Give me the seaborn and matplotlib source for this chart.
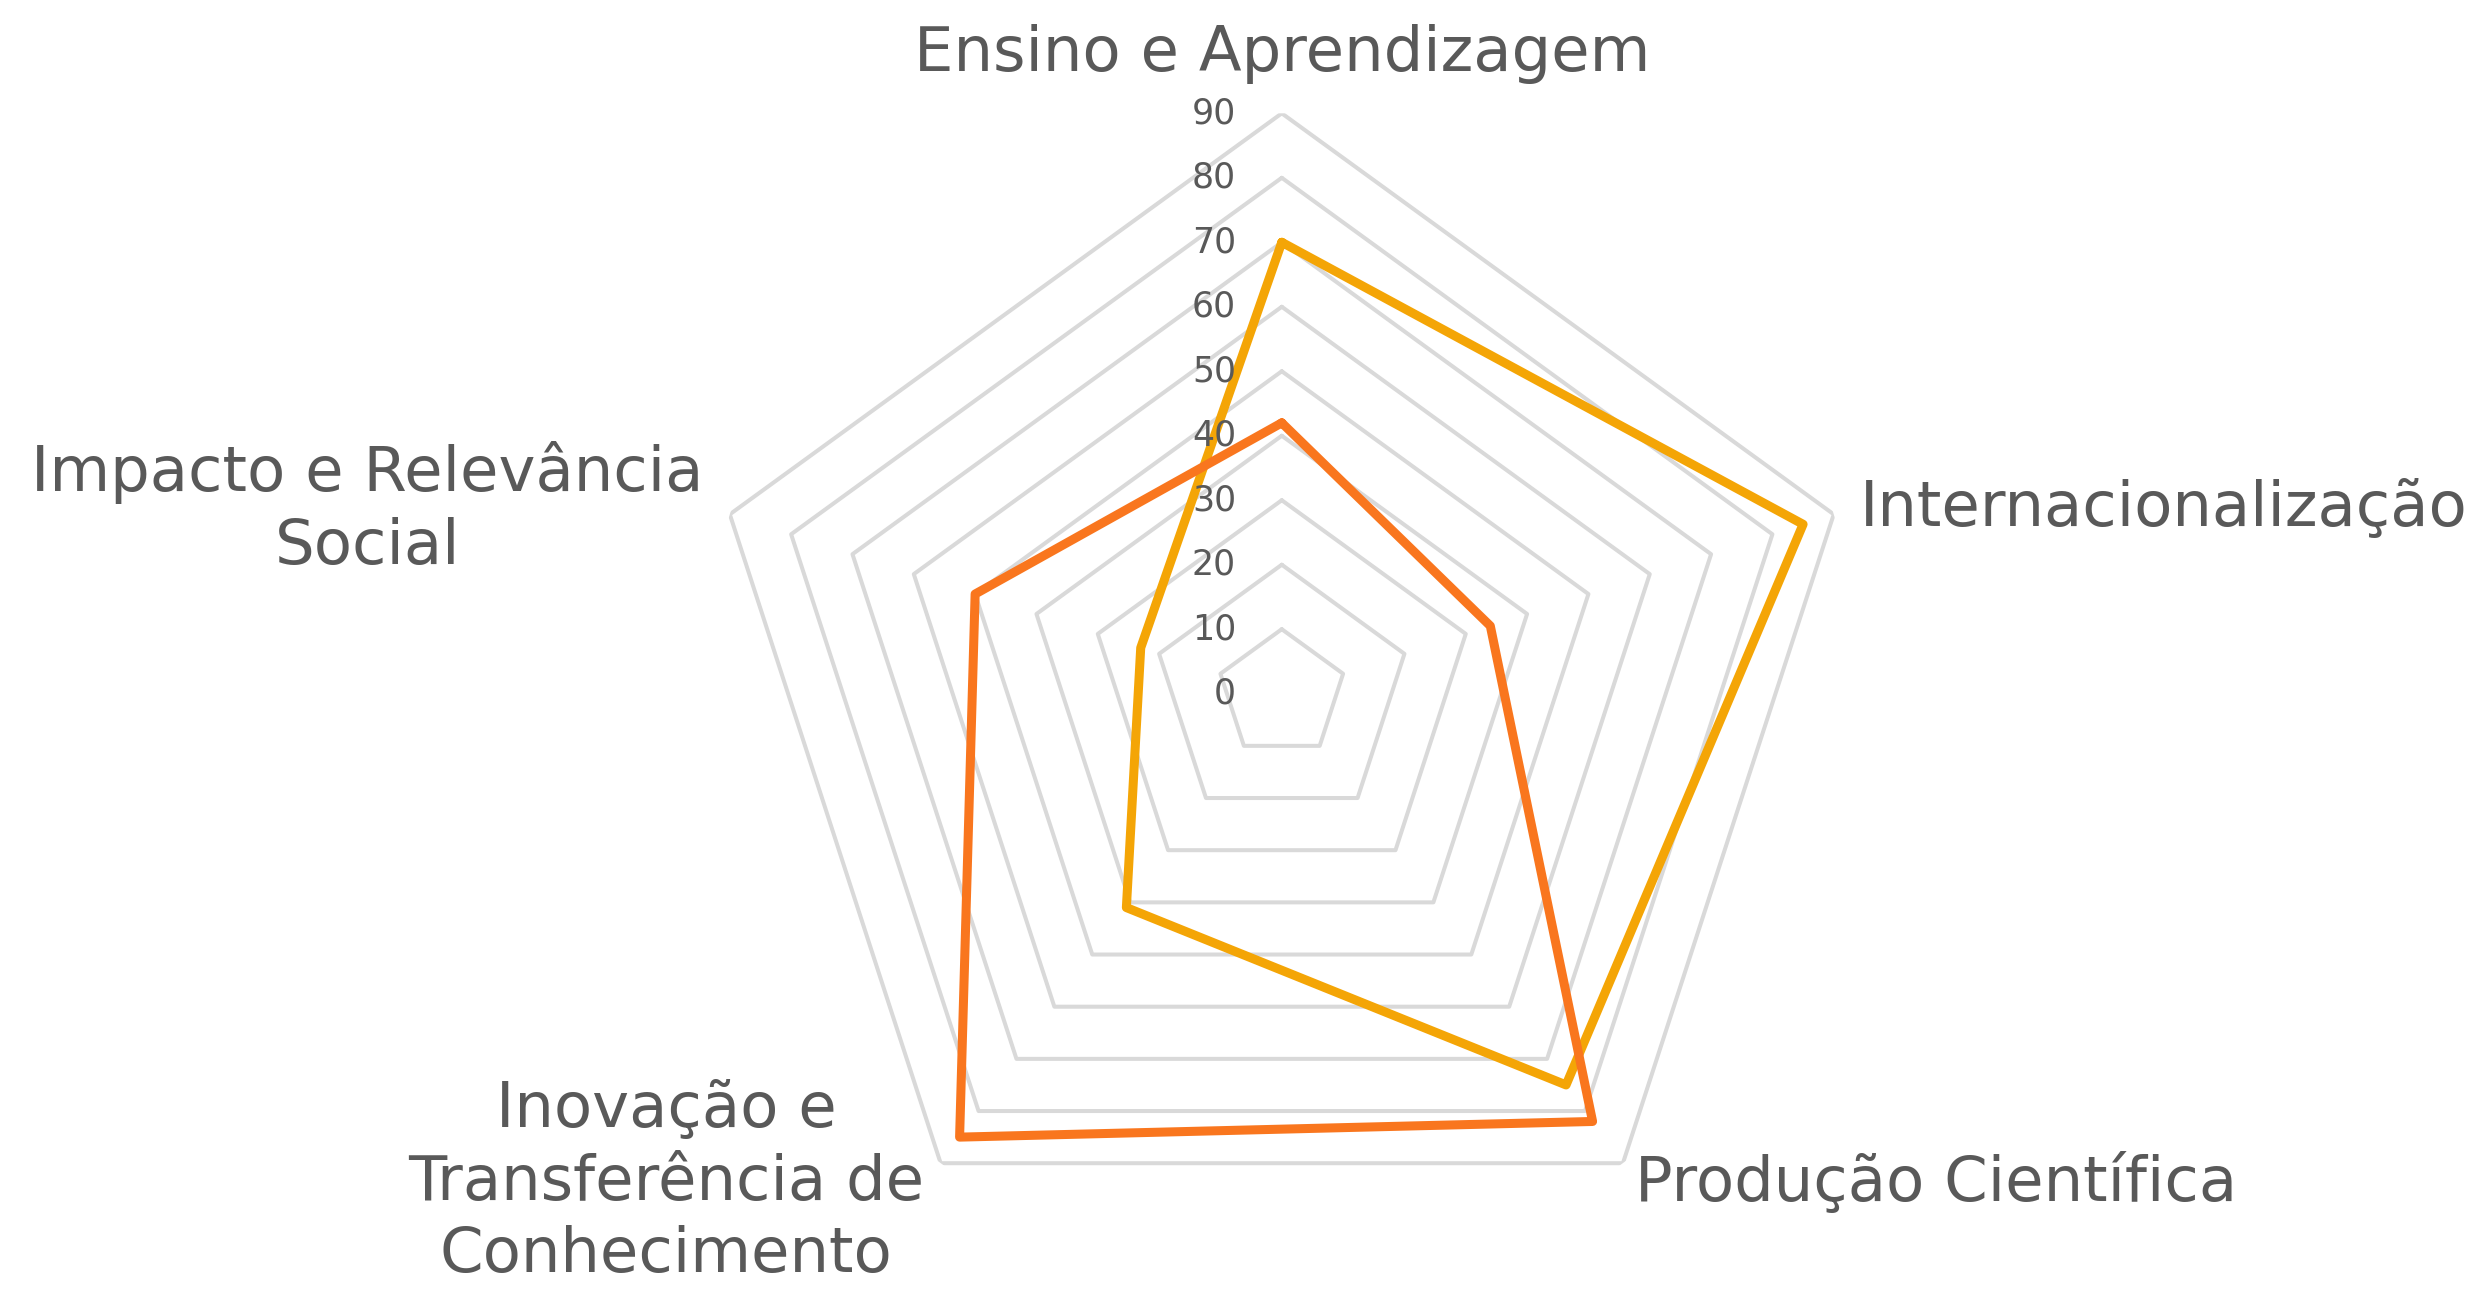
import numpy as np
import pandas as pd
import seaborn as sns
import matplotlib.pyplot as plt

categorias = ["Ensino e Aprendizagem", "Internacionalização", "Produção Científica",
              "Inovação e\nTransferência de\nConhecimento", "Impacto e Relevância\nSocial"]
serie_a = [70, 85, 75, 41, 23]   # amarelo
serie_b = [42, 34, 82, 85, 50]   # laranja
niveis = list(range(0, 100, 10))

cor_a = "#F4A506"
cor_b = "#F9761E"
cinza_txt = "#595959"
cinza_grade = "#D9D9D9"

sns.set_theme(style="white")
plt.rcParams["font.family"] = ["DejaVu Sans"]

angulos = np.linspace(0, 2 * np.pi, len(categorias), endpoint=False)

# tabela longa, fechando cada polígono
linhas = []
for nome, vals in [("A", serie_a), ("B", serie_b)]:
    for i in list(range(len(categorias))) + [0]:
        linhas.append({"theta": angulos[i], "valor": vals[i], "serie": nome})
df = pd.DataFrame(linhas)

fig = plt.figure(figsize=(24.74, 12.89), dpi=100)
ax = fig.add_axes([0.2835, 0.0116, 0.4692, 0.9005], projection="polar")
ax.set_theta_offset(np.pi / 2)
ax.set_theta_direction(-1)

# grade pentagonal
th_fech = np.append(angulos, angulos[0])
for lv in niveis[1:]:
    ax.plot(th_fech, [lv] * len(th_fech), color=cinza_grade, lw=2.9, zorder=1)

sns.lineplot(data=df, x="theta", y="valor", hue="serie", sort=False, estimator=None,
             palette={"A": cor_a, "B": cor_b}, hue_order=["A", "B"], legend=False,
             lw=6.5, ax=ax, zorder=3)
for ln in ax.get_lines()[len(niveis) - 1:]:
    ln.set_solid_joinstyle("round")
    ln.set_solid_capstyle("round")

ax.set_ylim(0, 90)
ax.grid(False)
ax.spines["polar"].set_visible(False)
ax.set_xticks([])
ax.set_yticks([])
ax.set_xlabel("")
ax.set_ylabel("")

# rótulos do eixo radial
for lv in niveis:
    ax.annotate(str(lv), xy=(0, lv), xytext=(-33, 0), textcoords="offset points",
                ha="right", va="center", fontsize=25, color=cinza_txt)

# rótulos das categorias
pos = [((0, 43), "center", "center"),
       ((19, 4), "left", "center"),
       ((9, -14), "left", "center"),
       ((-12, -14), "right", "center"),
       ((-19, 4), "right", "center")]
for ang, cat, (off, ha, va) in zip(angulos, categorias, pos):
    ax.annotate(cat, xy=(ang, 90), xytext=off, textcoords="offset points",
                ha=ha, va=va, multialignment="center", fontsize=45,
                color=cinza_txt, linespacing=1.27, annotation_clip=False)

fig.savefig("out.png", dpi=100, facecolor="white")
